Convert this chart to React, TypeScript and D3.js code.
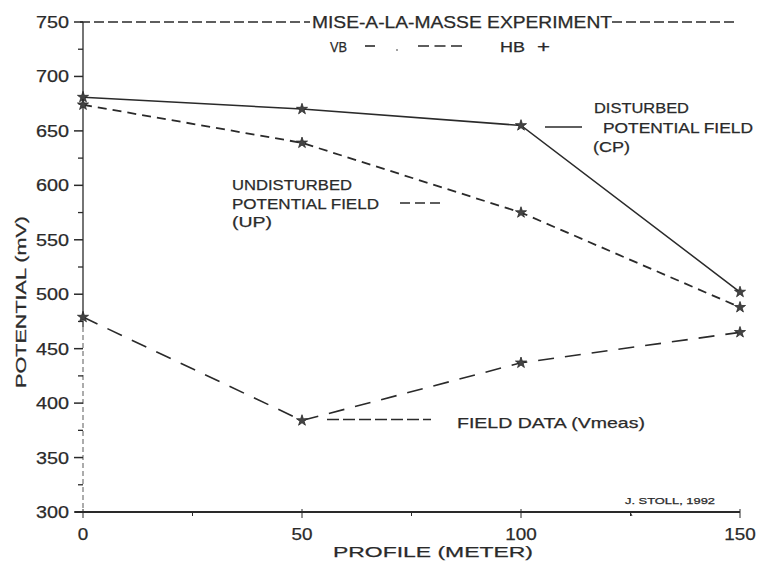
import React from 'react';
import * as d3 from 'd3';

// profile positions (m)
const profile = [0, 50, 100, 150];
// disturbed potential field (CP), solid
const disturbed = [681, 670, 655, 502];
// undisturbed potential field (UP), short dashes
const undisturbed = [674, 639, 575, 488];
// field data (Vmeas), long dashes
const fieldData = [479, 384, 437, 465];

const yTicks = [300, 350, 400, 450, 500, 550, 600, 650, 700, 750];
const yMinor = [325, 375, 425, 475, 525, 575, 625, 675, 725];
const xTicks = [0, 50, 100, 150];
const xMinor = [25, 75, 125];

const W = 759;
const H = 568;
const ink = '#2a2a2a';
const font = '"Liberation Sans", "DejaVu Sans", sans-serif';

const App: React.FC = () => {
  const x = d3.scaleLinear().domain([0, 150]).range([83, 740]);
  const y = d3.scaleLinear().domain([300, 750]).range([512, 22]);

  const line = d3.line<number>()
    .x((_, i) => x(profile[i]))
    .y(d => y(d));

  const star = d3.symbol().type(d3.symbolStar).size(38)();

  const series = [
    { values: disturbed, dash: 'none', width: 1.5 },
    { values: undisturbed, dash: '9,6', width: 1.8 },
    { values: fieldData, dash: '16,11', width: 1.6 },
  ];

  const tl = (txt: string, px: number, py: number, size: number, len?: number, anchor = 'start') => (
    <text x={px} y={py} fontSize={size} fill={ink} textAnchor={anchor} stroke={ink} strokeWidth={0.25}
      {...(len ? { textLength: len, lengthAdjust: 'spacingAndGlyphs' } : {})}>{txt}</text>
  );

  return (
    <svg width={W} height={H} style={{ position: 'absolute', left: 0, top: 0, background: '#fff' }}
      fontFamily={font}>
      {/* left axis: solid upper part, dotted lower part */}
      <line x1={x(0)} x2={x(0)} y1={y(750)} y2={y(470)} stroke={ink} strokeWidth={1.3} />
      <line x1={x(0)} x2={x(0)} y1={y(470)} y2={y(300)} stroke={ink} strokeWidth={1.1} strokeDasharray="5,3" opacity={0.7} />
      {yTicks.map(t => (
        <g key={t}>
          <line x1={x(0) - 9} x2={x(0)} y1={y(t)} y2={y(t)} stroke={ink} strokeWidth={1.5} />
          {tl(String(t), 69, y(t) + 6, 17, 33, 'end')}
        </g>
      ))}
      {yMinor.map(t => (
        <line key={t} x1={x(0) - 5} x2={x(0)} y1={y(t)} y2={y(t)} stroke={ink} strokeWidth={1.3} />
      ))}

      {/* bottom axis */}
      <line x1={x(0) - 8} x2={x(150)} y1={y(300)} y2={y(300)} stroke={ink} strokeWidth={2} />
      {xTicks.map(t => (
        <g key={t}>
          <line x1={x(t)} x2={x(t)} y1={y(300) - 3} y2={y(300) + 6} stroke={ink} strokeWidth={1} />
          {tl(String(t), x(t), 540, 17, String(t).length * 10.5, 'middle')}
        </g>
      ))}
      {xMinor.map(t => (
        <line key={t} x1={x(t)} x2={x(t)} y1={y(300)} y2={y(300) + 4} stroke={ink} strokeWidth={1} />
      ))}
      {tl('PROFILE (METER)', 333, 557, 15, 200)}
      <text transform={`translate(26,${302}) rotate(-90)`} fontSize={15} fill={ink} textAnchor="middle"
        stroke={ink} strokeWidth={0.25} textLength={172} lengthAdjust="spacingAndGlyphs">POTENTIAL (mV)</text>

      {/* title row on 750 line */}
      <line x1={x(0) - 3} x2={310} y1={y(750)} y2={y(750)} stroke={ink} strokeWidth={1.5} strokeDasharray="10,4" />
      <line x1={612} x2={736} y1={y(750)} y2={y(750)} stroke={ink} strokeWidth={1.5} strokeDasharray="10,4" />
      {tl('MISE-A-LA-MASSE EXPERIMENT', 312, 28, 16, 300)}
      {tl('VB', 330, 52, 15, 17)}
      <line x1={365} x2={375} y1={46} y2={46} stroke={ink} strokeWidth={1.6} />
      <circle cx={397} cy={50} r={0.8} fill={ink} />
      <line x1={418} x2={462} y1={46} y2={46} stroke={ink} strokeWidth={1.6} strokeDasharray="11,5.5" />
      {tl('HB', 500, 52, 15, 25)}
      {tl('+', 537, 52, 17, 13)}

      {/* series */}
      {series.map((s, i) => (
        <g key={i}>
          <path d={line(s.values) || ''} fill="none" stroke={ink} strokeWidth={s.width}
            strokeDasharray={s.dash} />
          {s.values.map((v, j) => (
            <path key={j} d={star || ''} transform={`translate(${x(profile[j])},${y(v)})`}
              fill="#444" stroke={ink} strokeWidth={0.8} />
          ))}
        </g>
      ))}

      {/* annotations */}
      {tl('DISTURBED', 594, 113, 15, 95)}
      <line x1={545} x2={582} y1={127} y2={127} stroke={ink} strokeWidth={1.5} />
      {tl('POTENTIAL  FIELD', 603, 133, 15, 150)}
      {tl('(CP)', 593, 152, 15, 37)}

      {tl('UNDISTURBED', 232, 190, 15, 120)}
      {tl('POTENTIAL  FIELD', 232, 209, 15, 147)}
      <line x1={400} x2={442} y1={203} y2={203} stroke={ink} strokeWidth={1.5} strokeDasharray="10,5" />
      {tl('(UP)', 232, 227, 15, 40)}

      <line x1={327} x2={431} y1={y(384) - 1} y2={y(384) - 1} stroke={ink} strokeWidth={1.5} strokeDasharray="12,4" />
      {tl('FIELD  DATA  (Vmeas)', 457, 428, 15, 188)}

      <line x1={630} x2={632} y1={512} y2={516} stroke={ink} strokeWidth={1} />
      {tl('J. STOLL, 1992', 625, 504, 9, 90)}
    </svg>
  );
};

export default App;
